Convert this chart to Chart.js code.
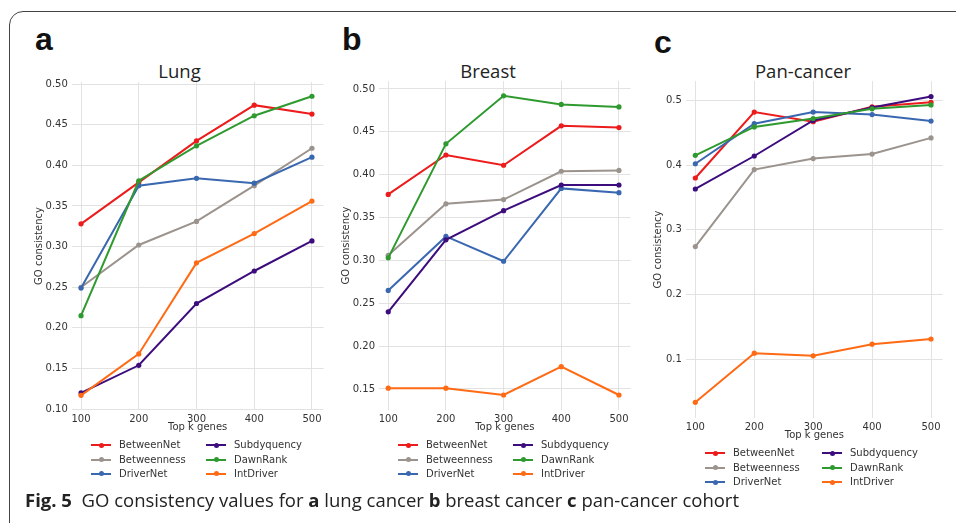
<!DOCTYPE html>
<html>
<head>
<meta charset="utf-8">
<script src="https://cdn.jsdelivr.net/npm/chart.js@4.4.1/dist/chart.umd.min.js"></script>
<style>
  body { margin: 0; background: #fff; width: 956px; height: 523px; overflow: hidden; position: relative; }
  .frame { position: absolute; left: 9px; top: 11px; width: 1000px; height: 600px; border: 1.6px solid #444; border-radius: 14px; box-sizing: border-box; }
  canvas { position: absolute; }
  .plabel { position: absolute; font: bold 32px "Liberation Sans", Arial, sans-serif; line-height: 32px; color: #111; }
  .ptitle { position: absolute; font: 18.5px "Open Sans", sans-serif; line-height: 18px; color: #222; transform: translateX(-50%); white-space: nowrap; }
  .legend-item { position: absolute; font: 10px "DejaVu Sans", sans-serif; color: #333; white-space: nowrap; }
  .legend-line { position: absolute; width: 20px; height: 2px; }
  .legend-dot { position: absolute; width: 5px; height: 5px; border-radius: 50%; left: 7.5px; top: -1.5px; }
  .caption { position: absolute; left: 25px; top: 490.6px; font: 18.5px "Open Sans", sans-serif; line-height: 18.5px; color: #222; white-space: nowrap; }
  .caption b { font-weight: bold; }
</style>
</head>
<body>
<div class="frame"></div>

<div class="plabel" style="left:35px; top:23px;">a</div>
<div class="plabel" style="left:342px; top:23px;">b</div>
<div class="plabel" style="left:654px; top:26px;">c</div>

<div class="ptitle" style="left:179.5px; top:61.5px;">Lung</div>
<div class="ptitle" style="left:488px; top:61.5px;">Breast</div>
<div class="ptitle" style="left:803px; top:61.5px;">Pan-cancer</div>

<canvas id="lungChart" width="340" height="380" style="left:0px; top:60px;"></canvas>
<canvas id="breastChart" width="320" height="380" style="left:330px; top:60px;"></canvas>
<canvas id="panChart" width="316" height="390" style="left:640px; top:60px;"></canvas>

<div id="legends"></div>

<div class="caption"><b>Fig. 5</b>&nbsp; GO consistency values for <b>a</b> lung cancer <b>b</b> breast cancer <b>c</b> pan-cancer cohort</div>

<script>
  const kValues = [100, 200, 300, 400, 500];
  const seriesNames = ['BetweenNet', 'Betweenness', 'DriverNet', 'Subdyquency', 'DawnRank', 'IntDriver'];
  const seriesColors = ['#ec1c1c', '#9b938d', '#3a68b0', '#3d0d7e', '#2f9a2f', '#ff6a14'];

  // Lung
  const lungBetweenNet  = [0.328, 0.379, 0.430, 0.474, 0.463];
  const lungBetweenness = [0.250, 0.302, 0.331, 0.375, 0.421];
  const lungDriverNet   = [0.249, 0.375, 0.384, 0.378, 0.410];
  const lungSubdyquency = [0.120, 0.154, 0.230, 0.270, 0.307];
  const lungDawnRank    = [0.215, 0.381, 0.424, 0.461, 0.485];
  const lungIntDriver   = [0.117, 0.168, 0.280, 0.316, 0.356];

  // Breast
  const breastBetweenNet  = [0.377, 0.423, 0.411, 0.457, 0.455];
  const breastBetweenness = [0.306, 0.366, 0.371, 0.404, 0.405];
  const breastDriverNet   = [0.265, 0.328, 0.299, 0.384, 0.379];
  const breastSubdyquency = [0.240, 0.324, 0.358, 0.388, 0.388];
  const breastDawnRank    = [0.303, 0.436, 0.492, 0.482, 0.479];
  const breastIntDriver   = [0.151, 0.151, 0.143, 0.176, 0.143];

  // Pan-cancer
  const panBetweenNet  = [0.380, 0.482, 0.467, 0.490, 0.497];
  const panBetweenness = [0.274, 0.393, 0.410, 0.417, 0.442];
  const panDriverNet   = [0.402, 0.464, 0.482, 0.478, 0.468];
  const panSubdyquency = [0.363, 0.414, 0.469, 0.489, 0.506];
  const panDawnRank    = [0.415, 0.459, 0.472, 0.487, 0.493];
  const panIntDriver   = [0.033, 0.109, 0.105, 0.123, 0.131];

  const lungTicks = [0.10, 0.15, 0.20, 0.25, 0.30, 0.35, 0.40, 0.45, 0.50];
  const breastTicks = [0.15, 0.20, 0.25, 0.30, 0.35, 0.40, 0.45, 0.50];
  const panTicks = [0.1, 0.2, 0.3, 0.4, 0.5];

  const tickFont = { family: 'DejaVu Sans', size: 10 };
  const textColor = '#333';
  const gridColor = '#e2e2e2';

  function makeChart(id, seriesList, yTicks, decimals, lay) {
    const datasets = seriesList.map((vals, i) => ({
      label: seriesNames[i],
      data: vals.map((v, j) => ({ x: kValues[j], y: v })),
      borderColor: seriesColors[i],
      backgroundColor: seriesColors[i],
      pointBackgroundColor: seriesColors[i],
      borderWidth: 2,
      pointRadius: 2.6,
      pointBorderWidth: 0,
      tension: 0,
      order: seriesList.length - i
    }));

    return new Chart(document.getElementById(id), {
      type: 'line',
      data: { datasets },
      options: {
        responsive: false,
        animation: false,
        devicePixelRatio: 1,
        layout: { padding: { top: lay.top, right: lay.right, left: 0, bottom: 0 } },
        plugins: { legend: { display: false }, tooltip: { enabled: false } },
        scales: {
          x: {
            type: 'linear',
            min: 84,
            max: 520,
            afterBuildTicks: s => { s.ticks = kValues.map(v => ({ value: v })); },
            afterFit: s => { s.height = lay.xHeight; },
            ticks: { font: tickFont, color: textColor, padding: 3, maxRotation: 0, callback: v => String(v) },
            grid: { color: gridColor, drawTicks: false },
            border: { display: false },
            title: { display: true, text: 'Top k genes', font: tickFont, color: textColor, padding: { top: 0, bottom: lay.xTitlePad } }
          },
          y: {
            min: lay.yMin,
            max: lay.yMax,
            afterBuildTicks: s => { s.ticks = yTicks.map(v => ({ value: v })); },
            afterFit: s => { s.width = lay.yWidth; },
            ticks: { font: tickFont, color: textColor, padding: 4, callback: v => Number(v).toFixed(decimals) },
            grid: { color: gridColor, drawTicks: false },
            border: { display: false },
            title: { display: true, text: 'GO consistency', font: tickFont, color: textColor, padding: { top: lay.yTitlePad, bottom: 0 } }
          }
        }
      }
    });
  }

  makeChart('lungChart',
    [lungBetweenNet, lungBetweenness, lungDriverNet, lungSubdyquency, lungDawnRank, lungIntDriver],
    lungTicks, 2,
    { top: 22, right: 16.5, xHeight: 30, xTitlePad: 6.3, yWidth: 71.8, yTitlePad: 33.5, yMin: 0.099, yMax: 0.5025 });

  makeChart('breastChart',
    [breastBetweenNet, breastBetweenness, breastDriverNet, breastSubdyquency, breastDawnRank, breastIntDriver],
    breastTicks, 2,
    { top: 21, right: 19.5, xHeight: 30, xTitlePad: 6.5, yWidth: 49, yTitlePad: 10, yMin: 0.1255, yMax: 0.5093 });

  makeChart('panChart',
    [panBetweenNet, panBetweenness, panDriverNet, panSubdyquency, panDawnRank, panIntDriver],
    panTicks, 1,
    { top: 21, right: 13.2, xHeight: 32, xTitlePad: 9, yWidth: 45.9, yTitlePad: 12.5, yMin: 0.0088, yMax: 0.530 });

  // legends: two columns of three, line + dot then name
  const legendSpots = [
    { cols: [91, 206], rows: [445.3, 459.7, 473.7] },
    { cols: [398, 513], rows: [445.3, 459.7, 473.7] },
    { cols: [705, 822], rows: [453, 467.7, 482.3] }
  ];
  const legendBox = document.getElementById('legends');
  legendSpots.forEach(spot => {
    seriesNames.forEach((name, i) => {
      const col = Math.floor(i / 3), row = i % 3;
      const x = spot.cols[col], y = spot.rows[row];
      const line = document.createElement('div');
      line.className = 'legend-line';
      line.style.left = x + 'px';
      line.style.top = (y - 1) + 'px';
      line.style.background = seriesColors[i];
      const dot = document.createElement('div');
      dot.className = 'legend-dot';
      dot.style.background = seriesColors[i];
      line.appendChild(dot);
      legendBox.appendChild(line);
      const txt = document.createElement('div');
      txt.className = 'legend-item';
      txt.textContent = name;
      txt.style.left = (x + 28) + 'px';
      txt.style.top = (y - 6) + 'px';
      txt.style.lineHeight = '12px';
      legendBox.appendChild(txt);
    });
  });
</script>
</body>
</html>
